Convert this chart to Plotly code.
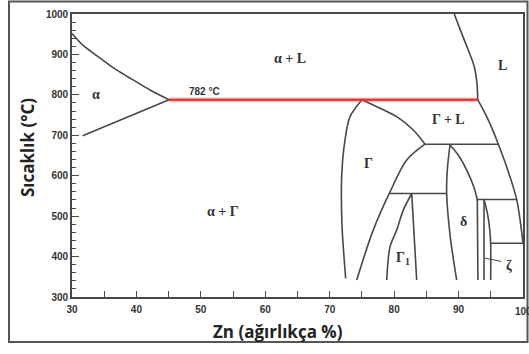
import plotly.graph_objects as go

# ---- data (x: wt% Zn, y: temperature °C) ----
alpha_upper_x = [30.0, 31.7, 34.35, 36.98, 39.47, 42.1, 45.06]
alpha_upper_y = [952, 923, 891, 861, 837, 812, 788]
alpha_lower_x = [45.06, 31.66]
alpha_lower_y = [788, 699]

peritectic_x = [45.06, 92.97]
peritectic_y = [788, 788]

liq_upper_x = [89.33, 90.48, 91.5, 92.43, 92.85, 92.97]
liq_upper_y = [1000, 952, 911, 870, 829, 788]
liq_lower_x = [92.97, 94.37, 95.4, 96.17, 97.46, 99.02, 100.0]
liq_lower_y = [788, 746, 709, 678, 622, 541, 433]

gamma_left_x = [75.0, 73.15, 72.37, 71.86, 71.9, 72.48]
gamma_left_y = [788, 746, 688, 600, 480, 346]
gamma_top_x = [75.0, 77.8, 80.4, 82.97, 84.79]
gamma_top_y = [788, 767, 746, 713, 678]
gamma_low_x = [84.79, 81.95, 79.36, 76.77, 74.19]
gamma_low_y = [678, 639, 560, 466, 342]

delta_peri_x = [84.79, 96.17]
delta_peri_y = [678, 678]

g1_peri_x = [79.36, 88.15]
g1_peri_y = [556, 556]
g1_left_x = [82.73, 81.42, 80.4, 79.36, 78.85]
g1_left_y = [556, 515, 466, 424, 342]
g1_right_x = [82.73, 83.5]
g1_right_y = [556, 342]

delta_left_x = [88.67, 88.25, 88.15, 88.7, 89.45, 89.71]
delta_left_y = [676, 614, 556, 450, 367, 342]
delta_right_x = [88.67, 90.0, 91.26, 92.3, 92.91]
delta_right_y = [676, 650, 614, 575, 541]
delta_vert_x = [92.91, 93.0]
delta_vert_y = [541, 342]

zeta_peri_x = [92.81, 99.02]
zeta_peri_y = [541, 541]
zeta_left_x = [93.95, 93.95]
zeta_left_y = [541, 342]
zeta_right_x = [93.95, 94.5, 94.85, 94.98, 94.98]
zeta_right_y = [541, 505, 465, 433, 342]
eutectic_x = [94.98, 100.0]
eutectic_y = [433, 433]
zeta_pointer_x = [94.1, 96.6]
zeta_pointer_y = [396, 388]

region_labels = ["α", "α + L", "L", "Γ + L", "Γ", "α + Γ", "δ", "Γ<sub>1</sub>", "ζ"]
region_x = [33.8, 63.8, 96.8, 88.4, 76.0, 53.5, 90.7, 81.4, 97.8]
region_y = [802, 890, 872, 738, 631, 511, 486, 396, 378]

temp_label = "782 °C"
temp_label_x = 50.6
temp_label_y = 808

x_ticks = [30, 40, 50, 60, 70, 80, 90]
x_last_tick = 100
y_ticks = [300, 400, 500, 600, 700, 800, 900, 1000]

LC = "#484848"
fig = go.Figure()

def curve(x, y, spline=True, color=LC, width=1.6):
    fig.add_trace(go.Scatter(
        x=x, y=y, mode="lines",
        line=dict(color=color, width=width, shape="spline" if spline else "linear", smoothing=0.9),
        hoverinfo="skip", showlegend=False))

curve(alpha_upper_x, alpha_upper_y)
curve(alpha_lower_x, alpha_lower_y, spline=False)
curve(liq_upper_x, liq_upper_y)
curve(liq_lower_x, liq_lower_y)
curve(gamma_left_x, gamma_left_y)
curve(gamma_top_x, gamma_top_y)
curve(gamma_low_x, gamma_low_y)
curve(delta_peri_x, delta_peri_y, spline=False)
curve(g1_peri_x, g1_peri_y, spline=False)
curve(g1_left_x, g1_left_y)
curve(g1_right_x, g1_right_y, spline=False)
curve(delta_left_x, delta_left_y)
curve(delta_right_x, delta_right_y)
curve(delta_vert_x, delta_vert_y, spline=False)
curve(zeta_peri_x, zeta_peri_y, spline=False)
curve(zeta_left_x, zeta_left_y, spline=False)
curve(zeta_right_x, zeta_right_y)
curve(eutectic_x, eutectic_y, spline=False)
curve(zeta_pointer_x, zeta_pointer_y, spline=False, width=1)
# red peritectic line with a soft halo
curve(peritectic_x, peritectic_y, spline=False, color="rgba(255,80,80,0.35)", width=4.5)
curve(peritectic_x, peritectic_y, spline=False, color="#ff2020", width=2)

for t, x, y in zip(region_labels, region_x, region_y):
    fig.add_annotation(x=x, y=y, text="<b>" + t + "</b>", showarrow=False,
                       font=dict(family="Liberation Serif", size=14, color="#333333"))
fig.add_annotation(x=temp_label_x, y=temp_label_y, text="<b>" + temp_label + "</b>", showarrow=False,
                   font=dict(family="Liberation Sans", size=10, color="#333333"))

# last x tick label (clipped by the picture edge as in the reference)
fig.add_annotation(x=x_last_tick, xref="x", yref="paper", y=(297 - 311) / 283,
                   xanchor="center", yanchor="middle", text="<b>%d</b>" % x_last_tick, showarrow=False,
                   font=dict(family="Liberation Sans", size=10, color="#333333"))

# axis titles
fig.add_annotation(xref="paper", yref="paper", x=(278 - 72) / 451, y=(297 - 331) / 283,
                   xanchor="center", yanchor="middle", text="<b>Zn (ağırlıkça %)</b>",
                   showarrow=False, font=dict(family="Open Sans", size=17, color="#222222"))
fig.add_annotation(xref="paper", yref="paper", x=(27 - 72) / 451, y=(297 - 148) / 283,
                   xanchor="center", yanchor="middle", text="<b>Sıcaklık (°C)</b>",
                   textangle=-90, showarrow=False, font=dict(family="Open Sans", size=17, color="#222222"))

# outer frame
fig.add_shape(type="rect", xref="paper", yref="paper",
              x0=(9 - 72) / 451, x1=(527.5 - 72) / 451, y0=(297 - 342) / 283, y1=(297 - 1.5) / 283,
              line=dict(color="#555555", width=2), layer="above")

axis_common = dict(showgrid=False, zeroline=False, showline=True, linecolor=LC, linewidth=1.6,
                   mirror=True, ticks="inside", tickcolor=LC, automargin=False,
                   tickfont=dict(family="Liberation Sans", size=10, color="#333333"))
fig.update_xaxes(range=[30, 100], tickvals=x_ticks, ticktext=["<b>%d</b>" % v for v in x_ticks],
                 ticklen=6, tickwidth=1.2, ticklabelstandoff=2,
                 minor=dict(dtick=5, tick0=30, ticks="inside", ticklen=6, tickcolor=LC, tickwidth=1.2),
                 **axis_common)
fig.update_yaxes(range=[300, 1000], tickvals=y_ticks, ticktext=["<b>%d</b>" % v for v in y_ticks],
                 ticklen=7, tickwidth=1.2,
                 minor=dict(dtick=20, tick0=300, ticks="inside", ticklen=4, tickcolor=LC, tickwidth=1),
                 **axis_common)

fig.update_layout(template="none", width=529, height=354, autosize=False,
                  margin=dict(l=72, r=6, t=14, b=57),
                  plot_bgcolor="white", paper_bgcolor="white", showlegend=False)

fig.write_html("out.html", config={"displayModeBar": False},
               post_script="document.body.style.margin='0';document.body.style.overflow='hidden';")
